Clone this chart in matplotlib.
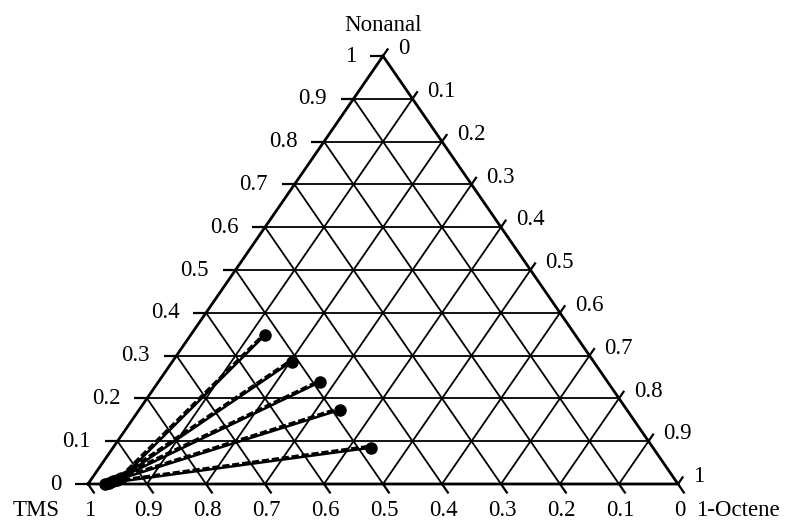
import numpy as np
import matplotlib
matplotlib.use("Agg")
import matplotlib.pyplot as plt

# Tie-line compositions (mass fractions of 1-octene and nonanal; TMS is the balance)
# Experimental: TMS-rich phase end and 1-octene-rich phase end
exp_oct_tms_phase = [0.050, 0.045, 0.039, 0.034, 0.028]
exp_non_tms_phase = [0.013, 0.009, 0.006, 0.0035, 0.001]
exp_oct_oct_phase = [0.126, 0.202, 0.274, 0.340, 0.438]
exp_non_oct_phase = [0.348, 0.286, 0.238, 0.173, 0.085]

# Correlated tie lines
calc_oct_tms_phase = [0.046, 0.041, 0.035, 0.030, 0.024]
calc_non_tms_phase = [0.016, 0.012, 0.009, 0.006, 0.004]
calc_oct_oct_phase = [0.123, 0.199, 0.271, 0.337, 0.435]
calc_non_oct_phase = [0.350, 0.289, 0.241, 0.177, 0.089]

tick_values = [0.0, 0.1, 0.2, 0.3, 0.4, 0.5, 0.6, 0.7, 0.8, 0.9, 1.0]
tick_labels = ["0", "0.1", "0.2", "0.3", "0.4", "0.5", "0.6", "0.7", "0.8", "0.9", "1"]

vertex_top = "Nonanal"
vertex_left = "TMS"
vertex_right = "1-Octene"

FONT = "Liberation Serif"
FS = 16.5


def to_xy(octene, nonanal):
    o = np.asarray(octene, dtype=float)
    n = np.asarray(nonanal, dtype=float)
    return o + n / 2.0, n


fig = plt.figure(figsize=(7.97, 5.21), dpi=100)
ax = fig.add_axes([88 / 797, 37 / 521, 590 / 797, 428 / 521])
ax.set_xlim(0, 1)
ax.set_ylim(0, 1)
ax.axis("off")

line_kw = dict(color="black", solid_capstyle="butt", clip_on=False)

# Interior grid
for v in tick_values[1:-1]:
    # constant nonanal (horizontal)
    ax.plot([v / 2, 1 - v / 2], [v, v], lw=1.3, **line_kw)
    # constant 1-octene (parallel to left edge)
    x, y = to_xy([v, v], [0, 1 - v])
    ax.plot(x, y, lw=1.3, **line_kw)
    # constant TMS (parallel to right edge)
    x, y = to_xy([1 - v, 0], [0, 1 - v])
    ax.plot(x, y, lw=1.3, **line_kw)

# Triangle outline
x, y = to_xy([0, 1, 0, 0], [0, 0, 1, 0])
ax.plot(x, y, lw=2.0, color="black", solid_joinstyle="miter", clip_on=False)

# Ticks and tick labels
tl = 0.022
for v, lab in zip(tick_values, tick_labels):
    # left edge: nonanal fraction
    ax.plot([v / 2 - tl, v / 2], [v, v], lw=1.6, **line_kw)
    ax.text(v / 2 - 0.045, v, lab, ha="right", va="center",
            family=FONT, fontsize=FS)
    # bottom edge: TMS fraction (1 at left)
    xb = 1 - v
    ax.plot([xb, xb + 0.5 * tl], [0, -tl], lw=1.6, **line_kw)
    ax.text(xb + 0.003, -0.063, lab, ha="center", va="center",
            family=FONT, fontsize=FS)
    # right edge: 1-octene fraction (0 at top)
    xr, yr = (1 + v) / 2, 1 - v
    ax.plot([xr, xr + 0.5 * 0.8 * tl], [yr, yr + 0.8 * tl], lw=1.6, **line_kw)
    ax.text(xr + 0.025, yr + 0.017, lab, ha="left", va="center",
            family=FONT, fontsize=FS)

# Vertex names
ax.text(0.5, 1.072, vertex_top, ha="center", va="center", family=FONT, fontsize=FS)
ax.text(-0.088, -0.063, vertex_left, ha="center", va="center", family=FONT, fontsize=FS)
ax.text(1.030, -0.063, vertex_right, ha="left", va="center", family=FONT, fontsize=FS)

# Tie lines
for i in range(len(exp_oct_oct_phase)):
    xc, yc = to_xy([calc_oct_tms_phase[i], calc_oct_oct_phase[i]],
                   [calc_non_tms_phase[i], calc_non_oct_phase[i]])
    ax.plot(xc, yc, color="black", lw=2.0, linestyle=(0, (2.6, 1.0)),
            clip_on=False, zorder=3)
    xe, ye = to_xy([exp_oct_tms_phase[i], exp_oct_oct_phase[i]],
                   [exp_non_tms_phase[i], exp_non_oct_phase[i]])
    ax.plot(xe, ye, color="black", lw=1.8, marker="o", markersize=8,
            clip_on=False, zorder=4)

fig.savefig("out.png", dpi=100, facecolor="white")
